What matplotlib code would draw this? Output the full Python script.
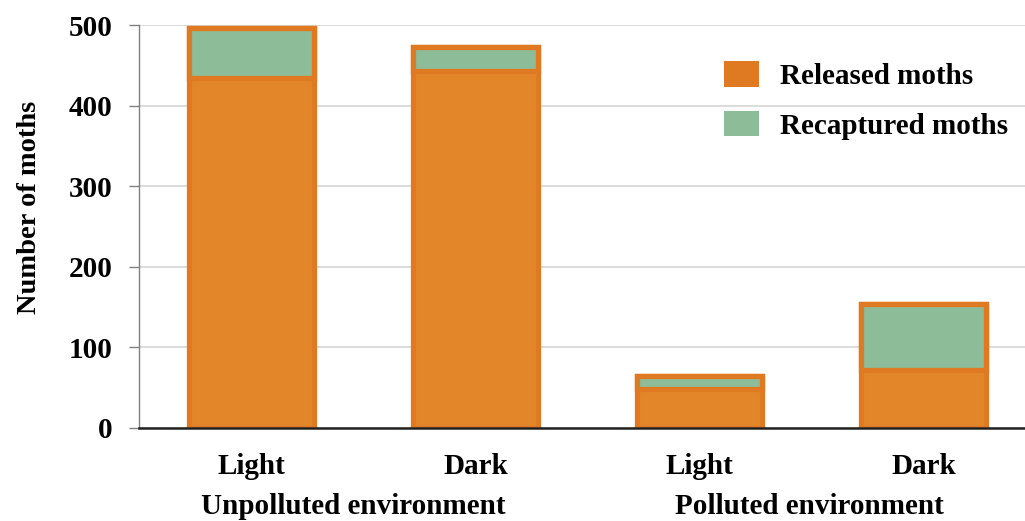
import numpy as np
import matplotlib
matplotlib.use("Agg")
import matplotlib.pyplot as plt
from matplotlib.patches import Patch
from matplotlib.transforms import blended_transform_factory

# moth counts per morph and environment
morphs = ["Light", "Dark", "Light", "Dark"]
environments = ["Unpolluted environment", "Polluted environment"]
released = [496, 473, 64, 154]
recaptured = [62, 30, 16, 82]

orange = "#E3862A"
orange_edge = "#E07A22"
green = "#8CBD98"
fs = 21

plt.rcParams["font.family"] = ["Liberation Serif", "DejaVu Serif"]
plt.rcParams["font.weight"] = "bold"

fig = plt.figure(figsize=(10.25, 5.21), dpi=100)
ax = fig.add_axes([139 / 1025, 1 - 428 / 521, 1 - 139 / 1025, (428 - 25) / 521])

x = np.arange(len(morphs))
w = 0.56
ax.bar(x, released, width=w, color=orange, edgecolor=orange_edge, linewidth=3.8, zorder=2)
bottoms = np.array(released) - np.array(recaptured)
ax.bar(x, recaptured, bottom=bottoms, width=w, color=green, edgecolor=orange_edge,
       linewidth=3.8, zorder=3)

ax.set_xlim(-0.502, 3.453)
ax.set_ylim(0, 500)
ax.set_yticks(range(0, 501, 100))
ax.yaxis.grid(True, color="#D9D9D9", linewidth=1.3, zorder=0)
ax.set_axisbelow(True)

for s in ["top", "right"]:
    ax.spines[s].set_visible(False)
ax.spines["left"].set_color("#808080")
ax.spines["left"].set_linewidth(1.0)
ax.spines["bottom"].set_color("#222222")
ax.spines["bottom"].set_linewidth(1.8)
ax.spines["bottom"].set_zorder(4)

ax.tick_params(axis="y", length=7, width=1, color="#808080", labelsize=fs, pad=12)
ax.set_xticks(x)
ax.set_xticklabels(morphs)
ax.tick_params(axis="x", length=0, labelsize=fs, pad=18)
for lbl in ax.get_xticklabels() + ax.get_yticklabels():
    lbl.set_fontweight("bold")

# group labels sit under each pair of bars
trans = blended_transform_factory(ax.transData, fig.transFigure)
for i, (env, dx) in enumerate(zip(environments, [-0.045, -0.01])):
    ax.text(2 * i + 0.5 + dx, 1 - 506 / 521, env, transform=trans, ha="center", va="center",
            fontsize=fs, fontweight="bold")

fig.text(30 / 1025, 1 - 207 / 521, "Number of moths", rotation=90, ha="center", va="center",
         fontsize=20.5, fontweight="bold")

handles = [Patch(facecolor=orange_edge, edgecolor="none", label="Released moths"),
           Patch(facecolor=green, edgecolor="none", label="Recaptured moths")]
leg = fig.legend(handles=handles, loc="upper left", bbox_to_anchor=(724 / 1025, 1 - 61 / 521),
                 frameon=False, handlelength=1.2, handleheight=0.97,
                 handletextpad=0.72, labelspacing=0.72, borderpad=0, borderaxespad=0,
                 prop={"weight": "bold", "size": fs})

fig.savefig("out.png", dpi=100)
